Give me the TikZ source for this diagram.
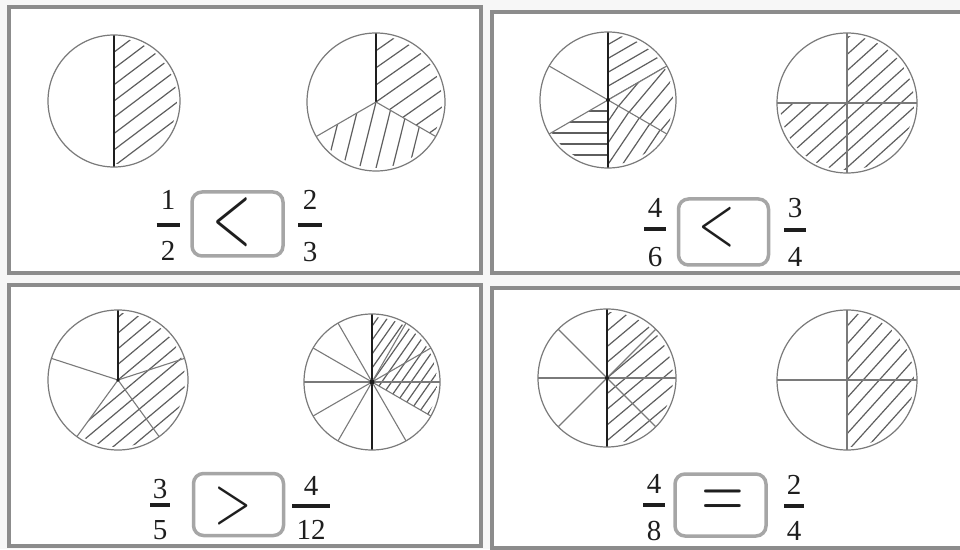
\documentclass[tikz,border=0pt]{standalone}
\usepackage{fontspec}
\setmainfont{Liberation Serif}
\usetikzlibrary{calc}
\definecolor{framec}{HTML}{8C8C8C}
\definecolor{rimc}{HTML}{7A7A7A}
\definecolor{hatchc}{HTML}{5E5E5E}
\definecolor{boxc}{HTML}{A6A6A6}
\definecolor{bgc}{HTML}{F7F7F7}
\definecolor{inkc}{HTML}{1E1E1E}
\tikzset{
  panel/.style={draw=framec, line width=4pt},
  rim/.style={draw=rimc, line width=1.2pt},
  divline/.style={draw=rimc, line width=1.1pt},
  mainline/.style={draw=inkc, line width=1.3pt},
  hatch/.style={draw=hatchc, line width=1.2pt},
  cmpbox/.style={draw=boxc, line width=3.5pt, rounded corners=10pt, fill=white, inner sep=0pt},
  digit/.style={font=\fontsize{29}{29}\selectfont, inner sep=0pt, text=inkc},
  fbar/.style={line width=3.5pt, draw=inkc},
  sym/.style={inner sep=0pt, text=inkc},
}
% hatch a sector: centre, radius, start angle, end angle, hatch angle, spacing
\newcommand\hatchsec[6]{%
  \begin{scope}
    \clip (#1) -- ++(#3:#2-3) arc[start angle=#3, end angle=#4, radius=#2-3] -- cycle;
    \foreach \k in {-12,...,12} {
      \draw[hatch] ($(#1)+({#5+90}:{\k*#6})+({#5+180}:#2)$) -- ($(#1)+({#5+90}:{\k*#6})+(#5:#2)$);
    }
  \end{scope}}
% fraction: name, x, y numerator, y bar, y denominator, numerator, denominator, half bar width
\newcommand\frc[8]{%
  \node[digit] (#1n) at (#2,#3) {#6};
  \node[digit] (#1d) at (#2,#5) {#7};
  \draw[fbar] (#2-#8,#4) -- (#2+#8,#4);}
\begin{document}
\begin{tikzpicture}[x=1pt,y=1pt]
\useasboundingbox (0,0) rectangle (960,549);
\clip (0,0) rectangle (960,549);
\fill[bgc] (0,0) rectangle (960,549);

% panels
\draw[panel, fill=white] (9,276) rectangle (481,542);
\draw[panel, fill=white] (492,276) rectangle (966,537);
\draw[panel, fill=white] (9,3) rectangle (481,264);
\draw[panel, fill=white] (492,1) rectangle (966,261);

% centres
\coordinate (c1) at (114,448);
\coordinate (c2) at (376,447);
\coordinate (c3) at (608,449);
\coordinate (c4) at (847,446);
\coordinate (c5) at (118,169);
\coordinate (c6) at (372,167);
\coordinate (c7) at (607,171);
\coordinate (c8) at (847,169);

% ---- circle 1 : 1/2
\hatchsec{c1}{66}{-90}{90}{37}{13}
\draw[mainline] (c1) ++(90:66) -- ++(0,-132);
\draw[rim] (c1) circle[radius=66];

% ---- circle 2 : 2/3
\hatchsec{c2}{69}{-30}{90}{35}{14}
\hatchsec{c2}{69}{210}{330}{76}{16}
\draw[mainline] (c2) -- ++(90:69);
\draw[divline] (c2) -- ++(210:69);
\draw[divline] (c2) -- ++(330:69);
\draw[rim] (c2) circle[radius=69];

% ---- circle 3 : 4/6
\hatchsec{c3}{68}{30}{90}{30}{12}
\hatchsec{c3}{68}{-30}{30}{50}{12}
\hatchsec{c3}{68}{-90}{-30}{56}{12}
\hatchsec{c3}{68}{210}{270}{0}{11}
\draw[mainline] (c3) ++(90:68) -- ++(0,-136);
\draw[divline] (c3) ++(30:68) -- ++(210:136);
\draw[divline] (c3) ++(150:68) -- ++(330:136);
\fill[inkc] (c3) circle[radius=2];
\draw[rim] (c3) circle[radius=68];

% ---- circle 4 : 3/4
\hatchsec{c4}{70}{0}{90}{42}{12}
\hatchsec{c4}{70}{180}{360}{42}{12}
\draw[divline] (c4) ++(90:70) -- ++(0,-140);
\draw[divline] (c4) ++(180:70) -- ++(140,0);
\draw[rim] (c4) circle[radius=70];

% ---- circle 5 : 3/5
\hatchsec{c5}{70}{-126}{90}{40}{12}
\draw[mainline] (c5) -- ++(90:70);
\draw[divline] (c5) -- ++(162:70);
\draw[divline] (c5) -- ++(234:70);
\draw[divline] (c5) -- ++(306:70);
\draw[divline] (c5) -- ++(18:70);
\fill[inkc] (c5) circle[radius=1.8];
\draw[rim] (c5) circle[radius=70];

% ---- circle 6 : 4/12
\hatchsec{c6}{68}{-30}{90}{55}{8}
\draw[mainline] (c6) ++(90:68) -- ++(0,-136);
\foreach \a in {0,30,60,120,150,180,210,240,300,330}
  \draw[divline] (c6) -- ++(\a:68);
\fill[inkc] (c6) circle[radius=2.5];
\draw[rim] (c6) circle[radius=68];

% ---- circle 7 : 4/8
\hatchsec{c7}{69}{-90}{90}{40}{12}
\draw[mainline] (c7) ++(90:69) -- ++(0,-138);
\foreach \a in {0,45,135}
  \draw[divline] (c7) ++(\a:69) -- ++({\a+180}:138);
\fill[inkc] (c7) circle[radius=2];
\draw[rim] (c7) circle[radius=69];

% ---- circle 8 : 2/4
\hatchsec{c8}{70}{-90}{90}{48}{12}
\draw[divline] (c8) ++(90:70) -- ++(0,-140);
\draw[divline] (c8) ++(180:70) -- ++(140,0);
\draw[rim] (c8) circle[radius=70];

% ---- comparison boxes
\node[cmpbox, minimum width=91pt, minimum height=64pt] (b1) at (237.5,325) {};
\node[cmpbox, minimum width=90pt, minimum height=66pt] (b2) at (723.5,317) {};
\node[cmpbox, minimum width=90pt, minimum height=62pt] (b3) at (238.5,44.5) {};
\node[cmpbox, minimum width=91pt, minimum height=62pt] (b4) at (720.5,44) {};

\node[sym] (s1) at (232,327) {\scalebox{5}[8.5]{$<$}};
\node[sym] (s2) at (717,322) {\scalebox{4.7}[6.9]{$<$}};
\node[sym] (s3) at (233,43) {\scalebox{4.8}[6.6]{$>$}};
\node[sym] (s4) at (723,45) {\scalebox{5.5}[7.5]{$=$}};

% ---- fractions
\frc{fa}{168}{349}{324}{298}{1}{2}{11.5}
\frc{fb}{310}{349}{324}{297}{2}{3}{12}
\frc{fc}{655}{341}{320}{292}{4}{6}{11}
\frc{fd}{795}{341}{319}{292}{3}{4}{11}
\frc{fe}{160}{60}{44}{19}{3}{5}{10}
\frc{ff}{311}{63}{43}{19}{4}{12}{19}
\frc{fg}{654}{65}{44}{18}{4}{8}{11}
\frc{fh}{794}{64}{43}{18}{2}{4}{10}
\end{tikzpicture}
\end{document}
